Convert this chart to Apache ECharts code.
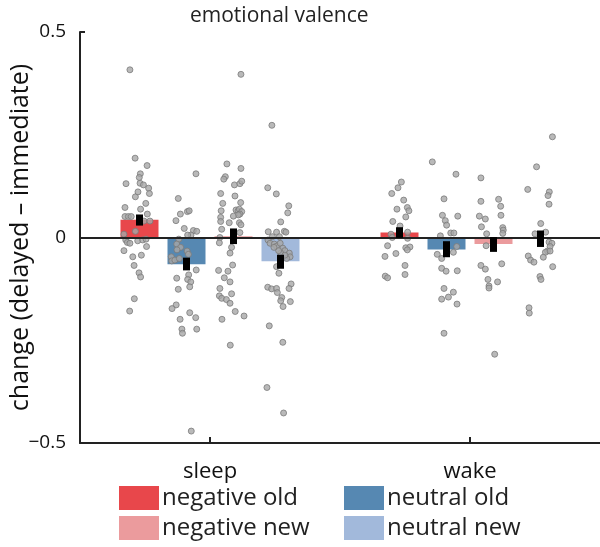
<!DOCTYPE html>
<html>
<head>
<meta charset="utf-8">
<script src="https://cdn.jsdelivr.net/npm/echarts@6/dist/echarts.min.js"></script>
<style>
  html, body { margin: 0; padding: 0; background: #fff; }
  #chart { width: 600px; height: 547px; }
</style>
</head>
<body>
<div id="chart"></div>
<script>
var categories = ['sleep', 'wake'];
var yTicks = [-0.5, 0, 0.5];

// bar means (sleep, wake)
var negOld = [0.043, 0.012];
var neuOld = [-0.065, -0.029];
var negNew = [0.003, -0.016];
var neuNew = [-0.058, -0.003];

// error bar ranges [low, high] (sleep, wake)
var negOldErr = [[0.029, 0.056], [-0.001, 0.025]];
var neuOldErr = [[-0.080, -0.049], [-0.048, -0.009]];
var negNewErr = [[-0.016, 0.022], [-0.035, 0.001]];
var neuNewErr = [[-0.076, -0.042], [-0.023, 0.017]];

// individual subjects [x in group units, change]
var sleepNegOldPts = [[0.192,0.408],[0.212,0.193],[0.258,0.175],[0.232,0.155],[0.228,0.146],[0.177,0.131],[0.231,0.132],[0.244,0.128],[0.264,0.120],
  [0.213,0.099],[0.223,0.111],[0.267,0.107],[0.173,0.073],[0.253,0.083],[0.233,0.069],[0.173,0.051],[0.186,0.051],[0.197,0.051],[0.259,0.057],
  [0.246,0.040],[0.269,0.040],[0.213,0.015],[0.169,0.008],[0.176,-0.006],[0.182,-0.012],[0.192,-0.014],[0.222,-0.008],[0.241,-0.006],
  [0.254,-0.004],[0.256,-0.022],[0.169,-0.032],[0.203,-0.047],[0.236,-0.043],[0.208,-0.068],[0.227,-0.086],[0.233,-0.096],[0.209,-0.149],[0.191,-0.179]];
var sleepNeuOldPts = [[0.446,0.155],[0.378,0.095],[0.386,0.057],[0.413,0.063],[0.420,0.065],[0.369,0.041],[0.401,0.022],[0.436,0.017],[0.449,0.015],
  [0.427,0.006],[0.414,0.006],[0.380,-0.004],[0.372,-0.016],[0.387,-0.024],[0.373,-0.030],[0.412,-0.033],[0.417,-0.041],[0.351,-0.047],
  [0.353,-0.057],[0.365,-0.055],[0.382,-0.051],[0.447,-0.079],[0.372,-0.099],[0.418,-0.091],[0.414,-0.102],[0.426,-0.108],[0.422,-0.120],
  [0.378,-0.126],[0.370,-0.164],[0.354,-0.173],[0.422,-0.183],[0.445,-0.195],[0.385,-0.199],[0.392,-0.223],[0.394,-0.233],[0.449,-0.223],[0.428,-0.471]];
var sleepNegNewPts = [[0.619,0.397],[0.565,0.179],[0.619,0.168],[0.559,0.148],[0.553,0.142],[0.594,0.128],[0.615,0.131],[0.622,0.137],
  [0.541,0.107],[0.596,0.101],[0.618,0.085],[0.549,0.083],[0.543,0.065],[0.600,0.067],[0.608,0.065],[0.613,0.069],[0.622,0.063],[0.615,0.057],
  [0.609,0.055],[0.590,0.052],[0.541,0.049],[0.541,0.039],[0.574,0.036],[0.613,0.036],[0.619,0.031],[0.545,0.020],[0.615,0.012],[0.538,0.000],
  [0.536,-0.013],[0.583,-0.024],[0.577,-0.038],[0.587,-0.067],[0.533,-0.080],[0.569,-0.082],[0.555,-0.098],[0.577,-0.108],[0.538,-0.124],
  [0.583,-0.137],[0.536,-0.142],[0.545,-0.148],[0.563,-0.151],[0.577,-0.160],[0.597,-0.180],[0.631,-0.191],[0.546,-0.199],[0.578,-0.262]];
var sleepNeuNewPts = [[0.738,0.273],[0.722,0.121],[0.755,0.106],[0.803,0.077],[0.799,0.060],[0.772,0.038],[0.724,0.014],[0.756,0.013],[0.786,0.015],
  [0.792,0.013],[0.767,0.002],[0.740,0.002],[0.723,-0.006],[0.731,-0.014],[0.747,-0.016],[0.756,-0.021],[0.770,-0.014],[0.780,-0.026],
  [0.788,-0.032],[0.772,-0.038],[0.764,-0.032],[0.746,-0.024],[0.805,-0.038],[0.808,-0.047],[0.795,-0.051],[0.788,-0.043],[0.756,-0.071],
  [0.765,-0.087],[0.722,-0.121],[0.737,-0.125],[0.756,-0.124],[0.759,-0.134],[0.776,-0.146],[0.812,-0.113],[0.804,-0.124],[0.772,-0.154],
  [0.809,-0.156],[0.781,-0.168],[0.728,-0.215],[0.780,-0.255],[0.719,-0.365],[0.783,-0.427]];
var wakeNegOldPts = [[1.236,0.135],[1.223,0.121],[1.199,0.107],[1.245,0.091],[1.219,0.069],[1.259,0.073],[1.265,0.065],[1.253,0.050],[1.203,0.039],
  [1.231,0.028],[1.260,0.013],[1.196,0.008],[1.201,0.000],[1.260,-0.002],[1.183,-0.020],[1.253,-0.025],[1.269,-0.023],[1.259,-0.030],
  [1.215,-0.039],[1.173,-0.046],[1.250,-0.068],[1.250,-0.090],[1.174,-0.094],[1.183,-0.098]];
var wakeNeuOldPts = [[1.355,0.184],[1.446,0.154],[1.400,0.094],[1.394,0.054],[1.405,0.041],[1.410,0.030],[1.453,0.052],[1.426,0.011],[1.438,0.011],
  [1.386,0.004],[1.449,-0.022],[1.436,-0.036],[1.374,-0.041],[1.391,-0.051],[1.391,-0.075],[1.408,-0.082],[1.451,-0.081],[1.400,-0.124],
  [1.436,-0.133],[1.417,-0.145],[1.391,-0.150],[1.450,-0.162],[1.400,-0.233]];
var wakeNegNewPts = [[1.542,0.145],[1.542,0.088],[1.610,0.093],[1.618,0.076],[1.619,0.054],[1.536,0.052],[1.559,0.045],[1.544,0.026],[1.626,0.024],
  [1.628,0.018],[1.626,0.010],[1.564,0.009],[1.562,-0.020],[1.542,-0.068],[1.559,-0.077],[1.622,-0.064],[1.569,-0.102],[1.606,-0.108],
  [1.573,-0.118],[1.573,-0.123],[1.595,-0.284]];
var wakeNeuNewPts = [[1.817,0.245],[1.756,0.172],[1.722,0.117],[1.805,0.111],[1.800,0.102],[1.804,0.081],[1.772,0.034],[1.791,0.013],[1.750,0.009],
  [1.804,-0.011],[1.815,-0.014],[1.808,-0.022],[1.798,-0.033],[1.790,-0.036],[1.808,-0.033],[1.782,-0.048],[1.724,-0.045],[1.733,-0.055],
  [1.746,-0.060],[1.818,-0.071],[1.769,-0.095],[1.773,-0.102],[1.727,-0.171],[1.728,-0.184]];

var FONT = 'Open Sans';
var BAR_W = 38, BAR_GAP = 9;

var chart = echarts.init(document.getElementById('chart'));

var barSeries = [
  { name: 'negative old', data: negOld, color: '#E8474B', err: negOldErr },
  { name: 'neutral old', data: neuOld, color: '#5688B2', err: neuOldErr },
  { name: 'negative new', data: negNew, color: '#EB9B9D', err: negNewErr },
  { name: 'neutral new', data: neuNew, color: '#A2B9DB', err: neuNewErr }
];

var errData = [];
barSeries.forEach(function (s, i) {
  s.err.forEach(function (e, c) { errData.push([c, e[0], e[1], i]); });
});

var allPts = [].concat(sleepNegOldPts, sleepNeuOldPts, sleepNegNewPts, sleepNeuNewPts,
  wakeNegOldPts, wakeNeuOldPts, wakeNegNewPts, wakeNeuNewPts);

var series = barSeries.map(function (s) {
  return {
    name: s.name,
    type: 'bar',
    xAxisIndex: 0,
    data: s.data,
    barWidth: BAR_W,
    barGap: (BAR_GAP / BAR_W * 100) + '%',
    itemStyle: { color: s.color },
    z: 2
  };
});

series.push({
  name: 'subjects',
  type: 'scatter',
  xAxisIndex: 1,
  data: allPts,
  symbolSize: 6,
  itemStyle: { color: '#a8a8a8', borderColor: '#7a7a7a', borderWidth: 1 },
  z: 4,
  markLine: {
    silent: true,
    symbol: 'none',
    label: { show: false },
    lineStyle: { color: '#222', width: 2, type: 'solid' },
    data: [{ yAxis: 0 }]
  }
});

series.push({
  name: 'sem',
  type: 'custom',
  xAxisIndex: 0,
  data: errData,
  z: 6,
  renderItem: function (params, api) {
    var c = api.value(0);
    var idx = api.value(3);
    var cx = api.coord([c, 0])[0] + (idx - 1.5) * (BAR_W + BAR_GAP);
    var top = api.coord([c, api.value(2)])[1];
    var bot = api.coord([c, api.value(1)])[1];
    return {
      type: 'rect',
      shape: { x: cx - 3.5, y: top, width: 7, height: bot - top },
      style: { fill: '#000' }
    };
  }
});

var legendBase = {
  orient: 'vertical',
  top: 486,
  padding: 0,
  itemWidth: 40,
  itemHeight: 24,
  itemGap: 6,
  icon: 'rect',
  selectedMode: false,
  textStyle: { fontFamily: FONT, fontSize: 24, color: '#222', padding: [0, 0, 0, -2] }
};

chart.setOption({
  animation: false,
  title: {
    text: 'emotional valence',
    left: 185,
    top: 1,
    textStyle: { fontFamily: FONT, fontSize: 21, fontWeight: 'normal', color: '#222' }
  },
  legend: [
    Object.assign({}, legendBase, { data: ['negative old', 'negative new'], left: 119 }),
    Object.assign({}, legendBase, { data: ['neutral old', 'neutral new'], left: 344 })
  ],
  grid: { left: 80, right: 0, top: 32, bottom: 104, containLabel: false, outerBoundsMode: 'none' },
  xAxis: [{
    type: 'category',
    data: categories,
    axisLine: { show: true, onZero: false, lineStyle: { color: '#222', width: 2 } },
    axisTick: { show: true, inside: true, alignWithLabel: true, length: 6, lineStyle: { color: '#222', width: 2 } },
    axisLabel: { fontFamily: FONT, fontSize: 22, color: '#111', margin: 18 }
  }, {
    type: 'value',
    min: 0,
    max: 2,
    show: false
  }],
  yAxis: {
    type: 'value',
    min: yTicks[0],
    max: yTicks[2],
    interval: 0.5,
    name: 'change (delayed \u2013 immediate)',
    nameLocation: 'middle',
    nameGap: 47,
    nameMoveOverlap: false,
    nameTextStyle: { fontFamily: FONT, fontSize: 25, color: '#111' },
    axisLine: { show: true, onZero: false, lineStyle: { color: '#222', width: 2 } },
    axisTick: { show: true, inside: true, length: 5, lineStyle: { color: '#222', width: 2 } },
    splitLine: { show: false },
    axisLabel: {
      fontFamily: FONT, fontSize: 19, color: '#111', margin: 14,
      formatter: function (v) { return v === 0 ? '0' : String(v).replace('-', '\u2212'); }
    }
  },
  series: series
});

window.addEventListener('resize', function () { chart.resize(); });
</script>
</body>
</html>
